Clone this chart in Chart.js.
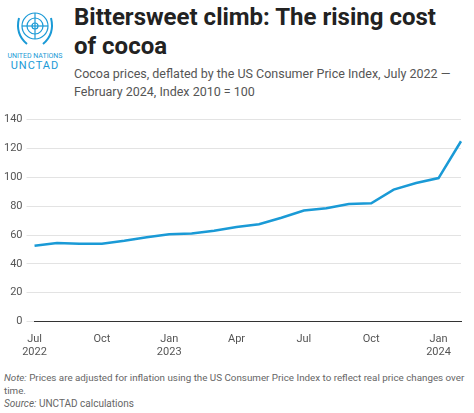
<!DOCTYPE html>
<html><head><meta charset="utf-8">
<script src="https://cdn.jsdelivr.net/npm/chart.js@4"></script>
<style>
body{margin:0;width:474px;height:413px;background:#fff;font-family:Roboto,"Noto Sans",sans-serif;position:relative;overflow:hidden}
#logo{position:absolute;left:4px;top:4px;width:62px;text-align:center;color:#1a9ad6}
#logo .t1{font-size:7px;letter-spacing:0}
#logo .t2{font-size:11px;letter-spacing:1px;margin-top:-1px}
h1{position:absolute;left:74px;top:3px;margin:0;font-size:24px;line-height:29px;font-weight:700;color:#222;width:385px}
#sub{position:absolute;left:74px;top:65px;font-size:12.5px;line-height:18px;color:#555;width:395px}
#wrap{position:absolute;left:0;top:109px;width:474px;height:253px}
#note{position:absolute;left:4px;top:371px;font-size:9.8px;line-height:13px;color:#666;width:470px}
#src{position:absolute;left:4px;top:398px;font-size:10px;color:#666}
</style></head><body>
<div id="logo">
<svg width="44" height="44" viewBox="0 0 44 44"><g fill="none" stroke="#1a9ad6" stroke-width="1.2"><circle cx="22" cy="22" r="13"/><circle cx="22" cy="22" r="8"/><circle cx="22" cy="22" r="3"/><line x1="9" y1="22" x2="35" y2="22"/><line x1="22" y1="9" x2="22" y2="35"/><path d="M6 14 Q2 30 14 40 M38 14 Q42 30 30 40" stroke-width="2"/></g></svg>
<div class="t1">UNITED NATIONS</div><div class="t2">UNCTAD</div></div>
<h1>Bittersweet climb: The rising cost of cocoa</h1>
<div id="sub">Cocoa prices, deflated by the US Consumer Price Index, July 2022 — February 2024, Index 2010 = 100</div>
<div id="wrap"><canvas id="c"></canvas></div>
<div id="note"><i>Note:</i> Prices are adjusted for inflation using the US Consumer Price Index to reflect real price changes over time.</div>
<div id="src"><i>Source:</i> UNCTAD calculations</div>
<script>
const months=["Jul 2022","Aug 2022","Sep 2022","Oct 2022","Nov 2022","Dec 2022","Jan 2023","Feb 2023","Mar 2023","Apr 2023","May 2023","Jun 2023","Jul 2023","Aug 2023","Sep 2023","Oct 2023","Nov 2023","Dec 2023","Jan 2024","Feb 2024"];
const tickLabels={0:["Jul","2022"],3:["Oct",""],6:["Jan","2023"],9:["Apr",""],12:["Jul",""],15:["Oct",""],18:["Jan","2024"]};
const cocoaIndex=[52.5,54.5,54,54,56,58.5,60.5,61,63,65.5,67.5,72,77,78.5,81.5,82,91.5,96,99.5,125];
const yTicks=[0,20,40,60,80,100,120,140];
new Chart(document.getElementById('c'),{type:'line',
data:{labels:months,datasets:[{data:cocoaIndex,borderColor:'#1a9ad6',borderWidth:2.5,pointRadius:0,tension:0,fill:false}]},
options:{responsive:true,maintainAspectRatio:false,animation:false,
layout:{padding:{left:0,right:13,top:4}},
plugins:{legend:{display:false},tooltip:{enabled:false}},
scales:{
x:{grid:{display:false},border:{color:'#333'},
ticks:{autoSkip:false,maxRotation:0,color:'#555',font:{size:11,family:'Roboto'},callback:(v,i)=>tickLabels[i]||''}},
y:{min:0,max:140,border:{display:false},grid:{color:'#e3e3e3'},
afterBuildTicks:a=>{a.ticks=yTicks.map(v=>({value:v}))},
ticks:{color:'#555',font:{size:11,family:'Roboto'},padding:4}}}}});
</script></body></html>
